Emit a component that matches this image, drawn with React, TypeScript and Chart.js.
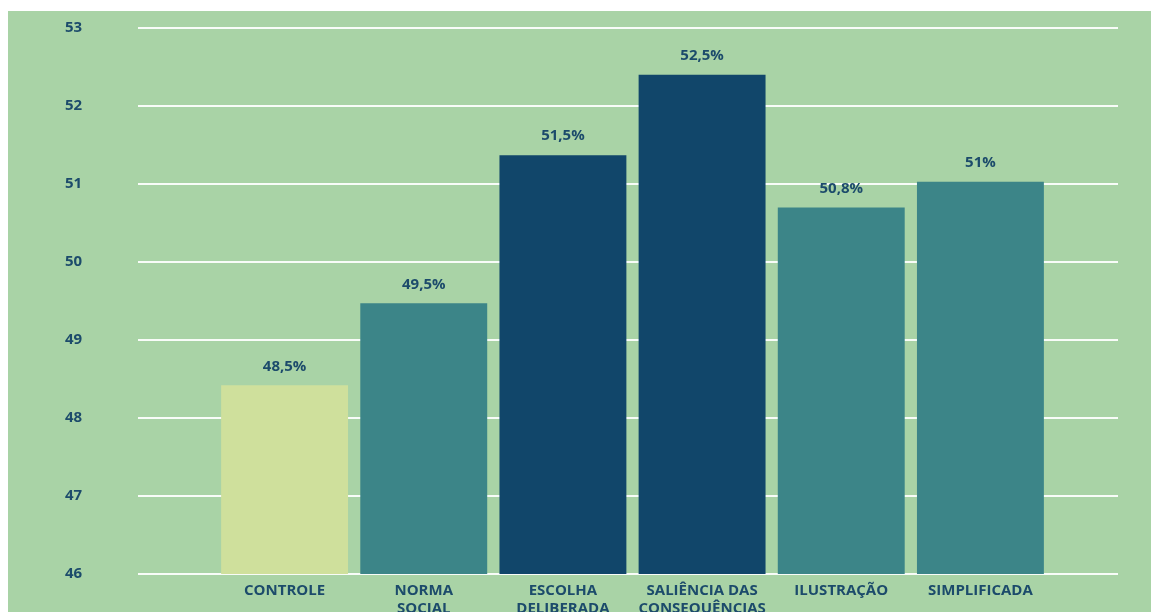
import React, { useEffect, useRef } from "react";
import { Chart, registerables } from "chart.js";

Chart.register(...registerables);

const categories: (string | string[])[] = [
  "CONTROLE",
  ["NORMA", "SOCIAL"],
  ["ESCOLHA", "DELIBERADA"],
  ["SALIÊNCIA DAS", "CONSEQUÊNCIAS"],
  "ILUSTRAÇÃO",
  "SIMPLIFICADA",
];
const values = [48.42, 49.47, 51.37, 52.4, 50.7, 51.03];
const valueLabels = ["48,5%", "49,5%", "51,5%", "52,5%", "50,8%", "51%"];
const barColors = ["#cfe09c", "#3c8588", "#11466a", "#11466a", "#3c8588", "#3c8588"];
const yMin = 46;
const yMax = 53;

const TEXT = "#1c4b6b";
const FONT = "'Open Sans', 'Noto Sans', sans-serif";

const gridPlugin = {
  id: "wideGrid",
  beforeDatasetsDraw(chart: any) {
    const { ctx, scales } = chart;
    const y = scales.y;
    ctx.save();
    ctx.strokeStyle = "rgba(255,255,255,0.92)";
    ctx.lineWidth = 2;
    y.ticks.forEach((t: any) => {
      const py = Math.round(y.getPixelForValue(t.value));
      ctx.beginPath();
      ctx.moveTo(130, py);
      ctx.lineTo(1110, py);
      ctx.stroke();
    });
    ctx.restore();
  },
};

const labelPlugin = {
  id: "valueLabels",
  afterDatasetsDraw(chart: any) {
    const { ctx } = chart;
    const meta = chart.getDatasetMeta(0);
    ctx.save();
    ctx.fillStyle = TEXT;
    ctx.font = `bold 15px ${FONT}`;
    ctx.textAlign = "center";
    ctx.textBaseline = "middle";
    meta.data.forEach((bar: any, i: number) => {
      ctx.fillText(valueLabels[i], bar.x, bar.y - 19);
    });
    ctx.restore();
  },
};

export default function App() {
  const ref = useRef<HTMLCanvasElement>(null);
  useEffect(() => {
    if (!ref.current) return;
    const chart = new Chart(ref.current, {
      type: "bar",
      data: {
        labels: categories,
        datasets: [
          {
            data: values,
            backgroundColor: barColors,
            borderWidth: 0,
            categoryPercentage: 1,
            barPercentage: 0.912,
          },
        ],
      },
      options: {
        animation: false,
        responsive: false,
        maintainAspectRatio: false,
        layout: { padding: { top: 17, right: 101, left: 57, bottom: 0 } },
        plugins: { legend: { display: false }, tooltip: { enabled: false } },
        scales: {
          x: {
            grid: { display: false, drawTicks: false },
            border: { display: false },
            ticks: {
              color: TEXT,
              font: { family: FONT, size: 15, weight: "bold" },
              padding: 8,
              maxRotation: 0,
              autoSkip: false,
            },
            afterFit(scale: any) {
              scale.height = 38;
            },
          },
          y: {
            min: yMin,
            max: yMax,
            grid: { display: false, drawTicks: false },
            border: { display: false },
            ticks: {
              stepSize: 1,
              color: TEXT,
              font: { family: FONT, size: 15, weight: "bold" },
              padding: 4,
              crossAlign: "far",
            },
            afterFit(scale: any) {
              scale.width = 150;
            },
          },
        },
      },
      plugins: [gridPlugin, labelPlugin],
    });
    return () => chart.destroy();
  }, []);
  return (
    <div
      style={{
        position: "absolute",
        left: 8,
        top: 11,
        width: 1143,
        height: 601,
        background: "#a9d3a6",
        overflow: "hidden",
      }}
    >
      <canvas ref={ref} width={1143} height={601} style={{ display: "block" }} />
    </div>
  );
}
